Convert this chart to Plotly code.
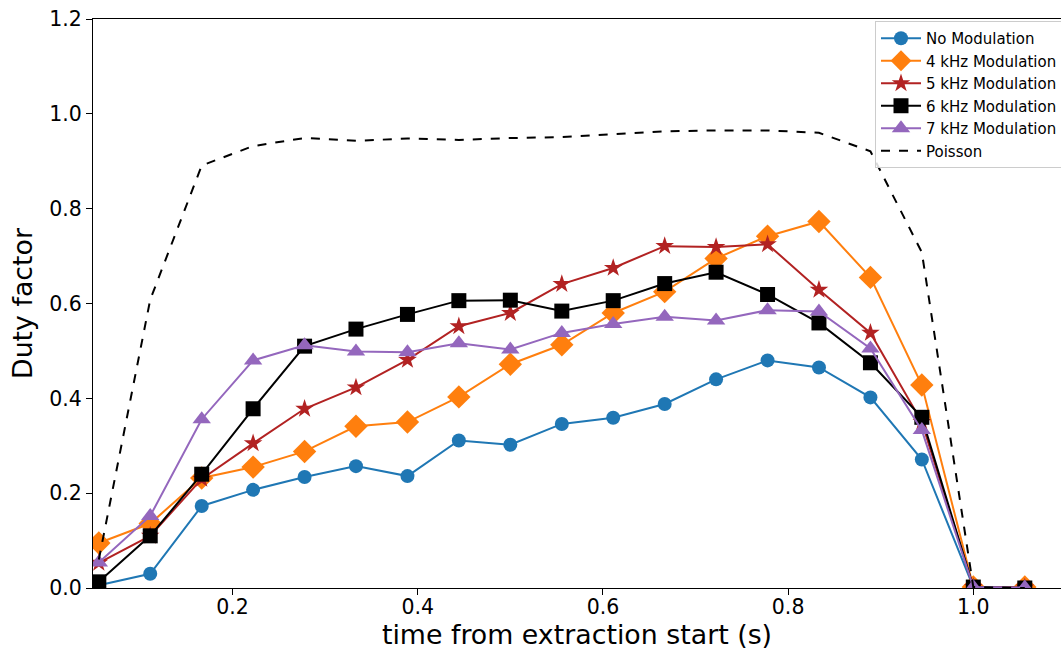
import plotly.graph_objects as go

# time bins (s)
time_s = [0.0556, 0.1111, 0.1667, 0.2222, 0.2778, 0.3333, 0.3889, 0.4444, 0.5,
          0.5556, 0.6111, 0.6667, 0.7222, 0.7778, 0.8333, 0.8889, 0.9444, 1.0, 1.0556]

no_mod = [0.006, 0.030, 0.173, 0.207, 0.234, 0.257, 0.236, 0.311, 0.302, 0.346,
          0.359, 0.388, 0.440, 0.480, 0.465, 0.402, 0.271, 0.002, 0.0]
mod_4k = [0.095, 0.136, 0.232, 0.255, 0.288, 0.341, 0.350, 0.403, 0.472, 0.513,
          0.580, 0.625, 0.695, 0.742, 0.773, 0.655, 0.428, 0.002, 0.002]
mod_5k = [0.053, 0.110, 0.230, 0.305, 0.378, 0.423, 0.481, 0.552, 0.580, 0.641,
          0.675, 0.721, 0.719, 0.725, 0.629, 0.538, 0.350, 0.002, 0.001]
mod_6k = [0.013, 0.110, 0.240, 0.378, 0.510, 0.546, 0.577, 0.606, 0.607, 0.584,
          0.606, 0.642, 0.666, 0.619, 0.559, 0.475, 0.360, 0.002, 0.0]
mod_7k = [0.054, 0.152, 0.356, 0.480, 0.512, 0.499, 0.497, 0.516, 0.503, 0.538,
          0.557, 0.572, 0.564, 0.586, 0.583, 0.505, 0.333, 0.002, 0.001]
poisson = [0.06, 0.608, 0.891, 0.932, 0.949, 0.943, 0.948, 0.945, 0.949, 0.951,
           0.957, 0.963, 0.965, 0.965, 0.960, 0.921, 0.708, 0.002, 0.0]

series = [
    ('No Modulation', no_mod, '#1f77b4', 'circle', 14),
    ('4 kHz Modulation', mod_4k, '#ff7f0e', 'diamond', 18),
    ('5 kHz Modulation', mod_5k, '#b22222', 'star', 14),
    ('6 kHz Modulation', mod_6k, 'black', 'square', 15),
    ('7 kHz Modulation', mod_7k, '#9467bd', 'triangle-up', 16),
]

fig = go.Figure()
for name, vals, color, sym, size in series:
    fig.add_trace(go.Scatter(
        x=time_s, y=vals, name=name, mode='lines+markers',
        line=dict(color=color, width=2),
        marker=dict(symbol=sym, size=size, color=color),
    ))

fig.add_trace(go.Scatter(
    x=time_s, y=poisson, name='Poisson', mode='lines',
    line=dict(color='black', width=2, dash='dash'),
))

axis_style = dict(
    showline=True, linecolor='black', linewidth=1, mirror=True,
    ticks='outside', ticklen=6, tickcolor='black',
    showgrid=False, zeroline=False, ticklabeloverflow='allow',
    tickfont=dict(family='DejaVu Sans', size=20.5, color='black'),
)

# plot runs slightly past the window on the right, like the cropped original
fig.update_layout(
    width=1063, height=651,
    margin=dict(l=93, r=0, t=19, b=63),
    plot_bgcolor='white', paper_bgcolor='white',
    font=dict(family='DejaVu Sans', color='black'),
    xaxis=dict(
        range=[0.0493, 1.0947], tickvals=[0.2, 0.4, 0.6, 0.8, 1.0],
        ticktext=['0.2', '0.4', '0.6', '0.8', '1.0'],
        ticklabelstandoff=-6,
        title=dict(text='time from extraction start (s)', font=dict(size=26.8), standoff=2),
        **axis_style
    ),
    yaxis=dict(
        range=[0, 1.2], tickvals=[0, 0.2, 0.4, 0.6, 0.8, 1.0, 1.2],
        ticktext=['0.0', '0.2', '0.4', '0.6', '0.8', '1.0', '1.2'],
        title=dict(text='Duty factor', font=dict(size=26.8), standoff=8),
        **axis_style
    ),
    legend=dict(
        x=0.808, y=0.9965, xanchor='left', yanchor='top',
        bgcolor='rgba(255,255,255,0.85)', bordercolor='#cccccc', borderwidth=1,
        font=dict(size=15), tracegroupgap=0, itemwidth=40,
    ),
    showlegend=True,
)

# drop the page's default body margin so the figure fills the window
fig.write_html("out.html", config={'displayModeBar': False},
               post_script="document.body.style.margin='0';document.body.style.overflow='hidden';")
